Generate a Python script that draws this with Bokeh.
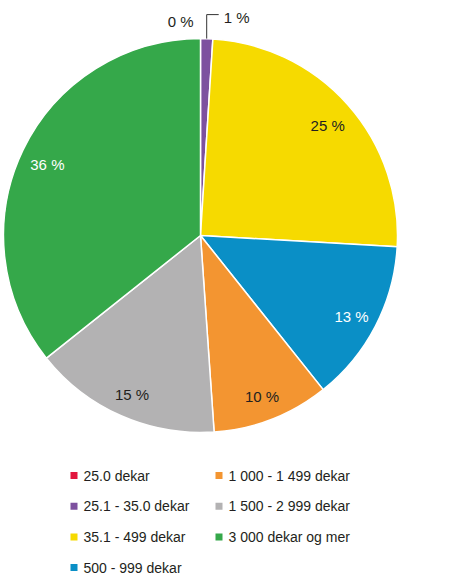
import numpy as np
from bokeh.plotting import figure
from bokeh.models import ColumnDataSource, Range1d
from bokeh.core.properties import value
from bokeh.embed import file_html
from bokeh.resources import INLINE

# ---- data ----
categories = ["25.0 dekar", "25.1 - 35.0 dekar", "35.1 - 499 dekar", "500 - 999 dekar",
              "1 000 - 1 499 dekar", "1 500 - 2 999 dekar", "3 000 dekar og mer"]
shares = [0.0, 1.0, 24.9, 13.4, 9.6, 15.4, 35.7]
colors = ["#e2173f", "#7d519f", "#f6da00", "#0a8fc6", "#f39531", "#b3b2b3", "#35a84a"]
label_colors = ["#231f20", "#231f20", "#231f20", "#ffffff", "#231f20", "#231f20", "#ffffff"]

# ---- layout constants ----
W, H = 442, 575
CX, CY, R = 200, H - 235, 197
R_LABEL = 170
FONT = "Liberation Sans"

p = figure(width=W, height=H, output_backend="svg", toolbar_location=None,
           x_range=Range1d(0, W), y_range=Range1d(0, H), min_border=0)
p.axis.visible = False
p.grid.visible = False
p.outline_line_color = None
p.background_fill_color = "white"
p.border_fill_color = "white"

vals = np.array(shares, dtype=float)
total = vals.sum()
cum_after = np.cumsum(vals) / total
cum_before = cum_after - vals / total
start = np.pi / 2 - 2 * np.pi * cum_before
end = np.pi / 2 - 2 * np.pi * cum_after
mid = (start + end) / 2

mask = vals > 0
wsrc = ColumnDataSource(dict(start=start[mask], end=end[mask],
                             color=[c for c, m in zip(colors, mask) if m]))
p.wedge(x=CX, y=CY, radius=R, start_angle="start", end_angle="end",
        direction="clock", fill_color="color", line_color="white", line_width=1.5,
        source=wsrc)

labels = [f"{round(v):.0f} %" for v in vals]

# inside labels for large slices
big = vals >= 3
lsrc = ColumnDataSource(dict(
    x=(CX + R_LABEL * np.cos(mid))[big], y=(CY + R_LABEL * np.sin(mid))[big] - 3,
    t=[l for l, b in zip(labels, big) if b],
    c=[c for c, b in zip(label_colors, big) if b]))
p.text(x="x", y="y", text="t", text_color="c", source=lsrc,
       text_font=value(FONT), text_font_size="15px",
       text_align="center", text_baseline="middle")

# outside labels for small slices
small_idx = [i for i in range(len(vals)) if vals[i] < 3]
for i in small_idx:
    ex, ey = CX + R * np.cos(mid[i]), CY + R * np.sin(mid[i])
    if vals[i] == 0:
        p.text(x=[ex - 7], y=[ey + 17], text=[labels[i]], text_color="#231f20",
               text_font=value(FONT), text_font_size="15px",
               text_align="right", text_baseline="middle")
    else:
        top = ey + 24
        p.line(x=[ex, ex, ex + 12], y=[ey, top, top], line_color="#333333", line_width=1)
        p.text(x=[ex + 17], y=[top - 3], text=[labels[i]], text_color="#231f20",
               text_font=value(FONT), text_font_size="15px",
               text_align="left", text_baseline="middle")

# legend (two columns, four rows, column-major)
LEG_X = [73.5, 218.5]
LEG_Y0, LEG_DY = H - 475, 30.7
n = len(categories)
col = np.array([i // 4 for i in range(n)])
row = np.array([i % 4 for i in range(n)])
gx = np.array([LEG_X[c] for c in col])
gy = LEG_Y0 - row * LEG_DY
gsrc = ColumnDataSource(dict(x=gx, y=gy, tx=gx + 9.5, c=colors, t=categories))
p.scatter(x="x", y="y", marker="square", size=7, fill_color="c", line_color=None, source=gsrc)
p.text(x="tx", y="y", text="t", source=gsrc, text_color="#231f20",
       text_font=value(FONT), text_font_size="14px",
       text_align="left", text_baseline="middle")

open("out.html", "w").write(file_html(p, INLINE))
